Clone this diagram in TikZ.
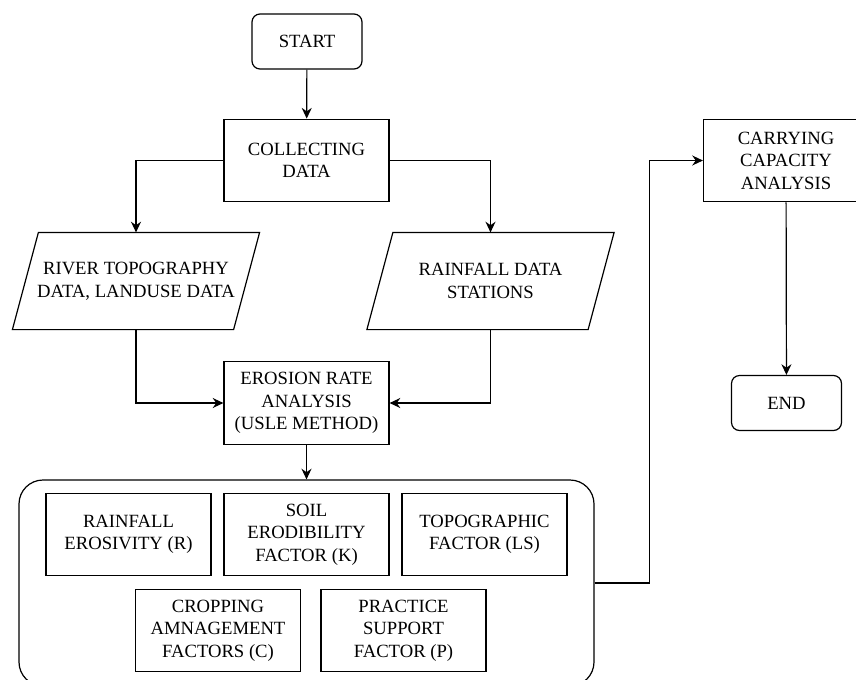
\documentclass[tikz,border=0pt]{standalone}
\usepackage{fontspec}
\setmainfont{Liberation Serif}
\usetikzlibrary{arrows.meta}

\begin{document}
\begin{tikzpicture}[x=0.75pt, y=-0.75pt, line width=0.9pt,
  every node/.style={font=\fontsize{14}{16.9}\selectfont, align=center, inner sep=0pt},
  terminal/.style={draw, rectangle, rounded corners=6pt, minimum width=82.5pt, minimum height=41.25pt},
  process/.style={draw, rectangle, minimum width=123.75pt, minimum height=62pt},
  iodata/.style={rectangle, minimum width=184.5pt, minimum height=72pt},
  group/.style={draw, rectangle, rounded corners=18pt, minimum width=431.25pt, minimum height=154.5pt},
  arrow/.style={-{Stealth[length=8pt, width=7.5pt]}}]
  \useasboundingbox (0,0) rectangle (856,679);

  \node [terminal] (start) at (307,41.5) {START};
  \node [process] (collect) at (306.5,160.5) {COLLECTING\\DATA};
  \node [iodata] (topo) at (136,281) {RIVER TOPOGRAPHY\\DATA, LANDUSE DATA};
  \node [iodata] (rain) at (490.5,281) {RAINFALL DATA\\STATIONS};
  \foreach \n in {topo,rain}
    \draw ([xshift=19.5pt]\n.north west) -- (\n.north east)
      -- ([xshift=-19.5pt]\n.south east) -- (\n.south west) -- cycle;
  \node [process] (erosion) at (306.5,403) {EROSION RATE\\ANALYSIS\\(USLE METHOD)};

  % USLE factors
  \node [group] (usle) at (306.5,583) {};
  \node [process] (fR) at (128.5,534.5) {RAINFALL\\EROSIVITY (R)};
  \node [process] (fK) at (306.5,534.5) {SOIL\\ERODIBILITY\\FACTOR (K)};
  \node [process] (fLS) at (484.5,534.5) {TOPOGRAPHIC\\FACTOR (LS)};
  \node [process] (fC) at (218,630.5) {CROPPING\\AMNAGEMENT\\FACTORS (C)};
  \node [process] (fP) at (403.5,630.5) {PRACTICE\\SUPPORT\\FACTOR (P)};

  \node [process] (carry) at (786,160.5) {CARRYING\\CAPACITY\\ANALYSIS};
  \node [terminal] (end) at (786.5,403) {END};

  \draw [arrow] (start) -- (collect);
  \draw [arrow] (collect.west) -| (topo.north);
  \draw [arrow] (collect.east) -| (rain.north);
  \draw [arrow] (topo.south) |- (erosion.west);
  \draw [arrow] (rain.south) |- (erosion.east);
  \draw [arrow] (erosion) -- (usle);
  \draw [arrow] (usle.east) -- ++(55,0) |- (carry.west);
  \draw [arrow] (carry) -- (end);
\end{tikzpicture}
\end{document}
